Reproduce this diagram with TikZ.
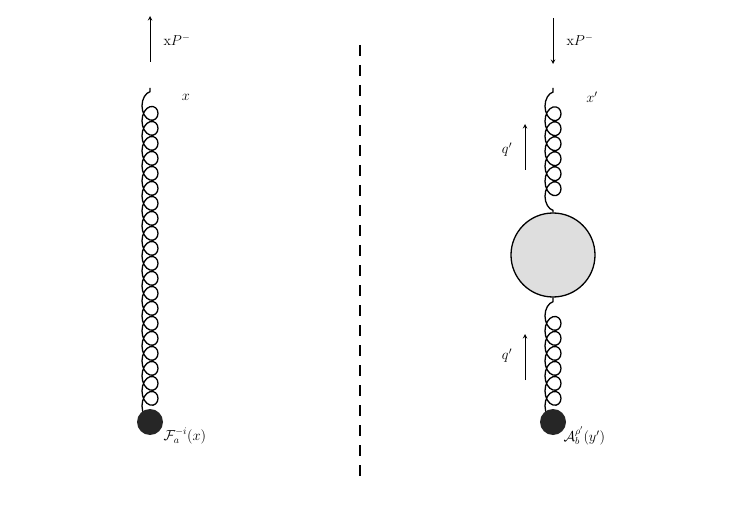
\documentclass[tikz,border=0pt]{standalone}
\usetikzlibrary{decorations.pathmorphing}
\begin{document}
\begin{tikzpicture}[x=1pt,y=-1pt,
 gluon/.style={line width=1.3pt,decorate,decoration={coil,aspect=1.3,segment length=15pt,amplitude=8pt,pre length=2pt,post length=2pt}},
 mom/.style={line width=1pt,-stealth},
 lab/.style={font=\Large},
 dot/.style={circle,fill=black!85,minimum size=26pt,inner sep=0pt},
 blob/.style={circle,draw,line width=1.3pt,fill=black!13,minimum size=84pt,inner sep=0pt}]
\useasboundingbox (0,0) rectangle (731,513);
% left
\coordinate (d1c) at (150,422);
\coordinate (t1) at (150,88);
\draw[gluon] (d1c) -- (t1);
\node[dot] (d1) at (d1c) {};
\node[lab,anchor=west] (L1) at (160,436) {$\mathcal{F}_a^{-i}(x)$};
\node[lab] (x1) at (186,97) {$x$};
\coordinate (a1s) at (150,62); \coordinate (a1e) at (150,16);
\draw[mom] (a1s) -- (a1e);
\node[lab,anchor=west] (p1) at (160,40) {$\mathrm{x}P^{-}$};
% cut
\coordinate (c1) at (360,45); \coordinate (c2) at (360,480);
\draw[line width=1.5pt,dash pattern=on 11pt off 9pt] (c1) -- (c2);
% right
\coordinate (d2c) at (553,422);
\node[blob] (b) at (553,255) {};
\coordinate (t2) at (553,88);
\draw[gluon] (d2c) -- (b.south);
\draw[gluon] (b.north) -- (t2);
\node[dot] (d2) at (d2c) {};
\node[lab,anchor=west] (L2) at (560,436) {$\mathcal{A}_b^{\rho'}(y')$};
\node[lab] (x2) at (592,97) {$x'$};
\coordinate (a2s) at (553,18); \coordinate (a2e) at (553,64);
\draw[mom] (a2s) -- (a2e);
\node[lab,anchor=west] (p2) at (563,40) {$\mathrm{x}P^{-}$};
\coordinate (q1s) at (525,170); \coordinate (q1e) at (525,124);
\draw[mom] (q1s) -- (q1e);
\node[lab] (q1) at (507,150) {$q'$};
\coordinate (q2s) at (525,380); \coordinate (q2e) at (525,334);
\draw[mom] (q2s) -- (q2e);
\node[lab] (q2) at (507,356) {$q'$};
\end{tikzpicture}
\end{document}
